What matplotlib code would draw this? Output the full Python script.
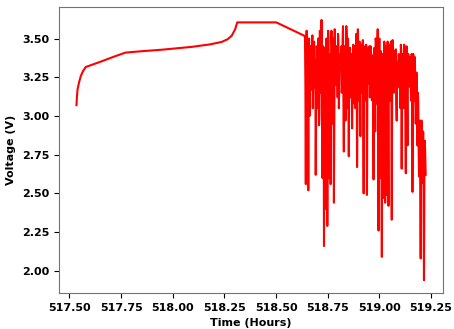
import numpy as np
import matplotlib
matplotlib.use('Agg')
import matplotlib.pyplot as plt

####################################################################################################

# charge + rest part (hours, volts)
charge_time = [517.534, 517.536, 517.539, 517.547, 517.555, 517.566, 517.579, 517.65, 517.72,
               517.771, 517.85, 517.95, 518.092, 518.18, 518.237, 518.265, 518.285, 518.302,
               518.312, 518.40, 518.501, 518.57, 518.638]
charge_volt = [3.07, 3.12, 3.17, 3.22, 3.258, 3.29, 3.316, 3.35, 3.385,
               3.409, 3.418, 3.428, 3.446, 3.462, 3.478, 3.495, 3.517, 3.56,
               3.604, 3.604, 3.604, 3.56, 3.517]

# discharge pulses, extremes logged every 0.004 h from 518.640
pulse_volt = [3.50, 2.56, 3.55, 3.05, 2.52, 3.50, 3.15, 3.45, 3.17, 3.52,
              3.30, 3.48, 3.25, 2.62, 3.45, 3.05, 3.50, 2.94, 3.55, 3.20,
              3.62, 2.60, 3.45, 2.16, 3.35, 2.40, 3.50, 2.29, 3.55, 2.60,
              3.40, 2.56, 3.55, 2.95, 3.50, 2.44, 3.56, 3.20, 3.45, 3.30,
              3.53, 3.05, 3.40, 3.30, 3.45, 3.20, 3.58, 2.77, 3.45, 2.97,
              3.58, 3.25, 3.50, 2.74, 3.42, 3.30, 3.40, 2.92, 3.38, 3.20,
              3.45, 3.05, 3.53, 2.67, 3.56, 3.10, 3.48, 2.87, 3.46, 3.15,
              3.49, 2.50, 3.40, 3.20, 3.46, 2.49, 3.44, 3.21, 3.45, 3.25,
              3.40, 3.10, 3.39, 2.59, 3.44, 2.90, 3.48, 3.20, 3.56, 2.26,
              3.50, 2.60, 3.30, 2.09, 3.40, 2.47, 3.48, 2.44, 3.45, 2.49,
              3.48, 2.42, 3.40, 3.10, 3.48, 2.33, 3.49, 3.20, 3.42, 3.25,
              3.43, 2.97, 3.22, 3.25, 3.22, 3.30, 3.46, 2.66, 3.40, 3.05,
              3.46, 3.20, 2.63, 3.45, 2.81, 3.40, 3.19, 3.29, 3.19, 3.40,
              2.51, 3.40, 3.10, 3.38, 2.95, 3.28, 2.81, 3.10, 2.61, 2.97,
              2.08, 2.97, 2.57, 2.90, 1.94, 2.84, 2.62]

# in-between samples (half way between the extremes above)
band_volt = [3.20, 3.40, 3.10, 3.35, 3.45, 3.00, 3.38, 3.22, 3.48, 3.05, 3.42, 3.18, 3.36, 3.08, 3.44,
             3.26, 3.50, 3.02, 3.40, 3.15, 3.46, 2.90, 3.30, 3.05, 3.44, 2.95, 3.38, 3.12, 3.48, 3.00,
             3.35, 3.10, 3.45, 3.20, 3.50, 3.05, 3.38, 3.28, 3.42, 3.12, 3.46, 3.22, 3.36, 3.40, 3.15,
             3.48, 3.10, 3.30, 3.42, 3.18, 3.50, 3.05, 3.36, 3.25, 3.44, 3.12, 3.40, 3.28, 3.46, 3.08,
             3.38, 3.22, 3.46, 3.00, 3.40, 3.30, 3.15, 3.44, 3.25, 3.38, 3.05, 3.45, 3.32, 3.10, 3.40,
             3.20, 3.42, 3.30, 3.12, 3.45, 3.28, 3.36, 3.05, 3.40, 3.18, 3.50, 3.08, 3.44, 3.00, 3.35,
             3.10, 3.42, 2.95, 3.30, 3.05, 3.38, 3.00, 3.44, 3.15, 3.35, 3.02, 3.46, 3.25, 3.10, 3.40,
             3.30, 3.45, 3.15, 3.38, 3.20, 3.10, 3.35, 3.28, 3.40, 3.18, 3.05, 3.42, 3.22, 3.36, 3.12,
             3.40, 3.00, 3.35, 3.15, 3.30, 3.25, 3.38, 3.22, 3.10, 3.35, 3.05, 3.32, 3.20, 3.12, 3.05,
             3.00, 3.15, 2.80, 2.90, 2.60, 2.85, 2.75, 2.65, 2.50, 2.70, 2.75]

pulse = np.empty(len(pulse_volt) + len(band_volt))
pulse[0::2] = pulse_volt
pulse[1::2] = band_volt
pulse_time = np.linspace(518.640, 518.640 + 0.002 * (len(pulse) - 1), len(pulse))

time = np.concatenate([charge_time, pulse_time])
volt = np.concatenate([charge_volt, pulse])

####################################################################################################

fig = plt.figure(figsize=(4.54, 3.29), dpi=100)
ax = fig.add_axes([0.13, 0.109, 0.846, 0.87])
ax.plot(time, volt, color='red', lw=1.5)

ax.set_xticks([517.5, 517.75, 518.0, 518.25, 518.5, 518.75, 519.0, 519.25])
ax.set_yticks([2.0, 2.25, 2.5, 2.75, 3.0, 3.25, 3.5])
ax.xaxis.set_major_formatter(matplotlib.ticker.FormatStrFormatter('%.2f'))
ax.yaxis.set_major_formatter(matplotlib.ticker.FormatStrFormatter('%.2f'))
for label in ax.get_xticklabels() + ax.get_yticklabels():
    label.set_fontweight('bold')
    label.set_fontsize(8)
ax.set_xlabel('Time (Hours)', fontweight='bold', fontsize=8)
ax.set_ylabel('Voltage (V)', fontweight='bold', fontsize=8)
for spine in ax.spines.values():
    spine.set_color('0.45')

fig.savefig('out.png', dpi=100)
